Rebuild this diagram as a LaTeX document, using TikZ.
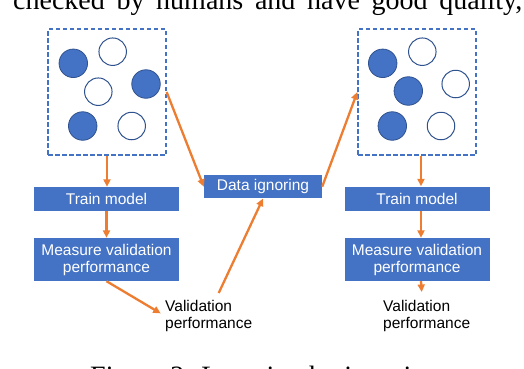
\documentclass[tikz,border=0pt]{standalone}
\usepackage{fontspec}
\setmainfont{Liberation Sans}
\newfontfamily\serifpaper{Liberation Serif}
\usetikzlibrary{arrows.meta,calc}
\definecolor{oblue}{HTML}{4472C4}
\definecolor{dblue}{HTML}{2F528F}
\definecolor{oorange}{HTML}{ED7D31}
\begin{document}
\begin{tikzpicture}[x=1pt,y=-1pt,
  pool/.style={draw=oblue, line width=1.3pt, dash pattern=on 4.5pt off 2.5pt, minimum width=118pt, minimum height=126pt, inner sep=0pt},
  full/.style={circle, fill=oblue, draw=dblue, line width=0.8pt, minimum size=28.5pt, inner sep=0pt},
  empty/.style={circle, fill=white, draw=dblue, line width=1pt, minimum size=27.5pt, inner sep=0pt},
  bluebox/.style={fill=oblue, text=white, font=\fontsize{15.5}{17}\selectfont, align=center, minimum width=145pt, inner sep=0pt},
  plain/.style={font=\fontsize{15.5}{17}\selectfont, align=left, inner sep=0pt},
  flow/.style={draw=oorange, line width=2.3pt, -{Triangle[length=7.5pt,width=7pt]}},
  paper/.style={inner sep=0pt, font=\serifpaper\fontsize{28}{30}\selectfont},
]
\useasboundingbox (0,0) rectangle (524,368);
\clip (0,0) rectangle (524,368);

% paper context
\node[paper, anchor=base west] (ctx) at (13,9) {\makebox[509pt][s]{checked by humans and have good quality,}};
\node[paper, anchor=base west] (cap) at (90,385) {Figure 2: Learning by ignoring};

% pools
\node[pool] (box1) at (107,92) {};
\node[pool] (box2) at (417,92) {};

\node[full]  (a1) at (73.3,63.3) {};
\node[empty] (a2) at (112.7,51.7) {};
\node[full]  (a3) at (146,84) {};
\node[empty] (a4) at (98.3,91.7) {};
\node[full]  (a5) at (82.7,126) {};
\node[empty] (a6) at (131.7,126) {};

\node[full]  (b1) at (382.7,63.3) {};
\node[empty] (b2) at (422.3,51.7) {};
\node[full]  (b3) at (408.3,91) {};
\node[empty] (b4) at (455.7,84) {};
\node[full]  (b5) at (392.3,126) {};
\node[empty] (b6) at (441,126) {};

% boxes
\node[bluebox, minimum height=24pt] (train1) at (106.5,199) {Train model};
\node[bluebox, minimum height=43pt] (measure1) at (106.5,259.5) {Measure validation\\performance};
\node[bluebox, minimum height=24pt] (train2) at (417,198.5) {Train model};
\node[bluebox, minimum height=43pt] (measure2) at (417,259.5) {Measure validation\\performance};
\node[bluebox, minimum width=118pt, minimum height=23.3pt] (data) at (263,186.7) {Data ignoring};

\node[plain, anchor=north west] (val1) at (165,300) {Validation\\performance};
\node[plain, anchor=north west] (val2) at (383,300) {Validation\\performance};

% connectors
\draw[flow] (box1.south) -- (box1.south |- train1.north);
\draw[flow] (train1.south) -- (measure1.north);
\draw[flow, shorten >=5pt] (measure1.south) -- (val1.west);
\draw[flow] ([xshift=10pt,yshift=7pt]val1.north) -- (data.south);
\draw[flow] (box1.east) -- (data.west);
\draw[flow] (data.east) -- (box2.west);
\draw[flow] ([xshift=4pt]box2.south) -- ([xshift=4pt]train2.north);
\draw[flow] ([xshift=4pt]train2.south) -- ([xshift=4pt]measure2.north);
\draw[flow] ([xshift=4pt]measure2.south) -- ([xshift=-5pt,yshift=8pt]val2.north);
\end{tikzpicture}
\end{document}
